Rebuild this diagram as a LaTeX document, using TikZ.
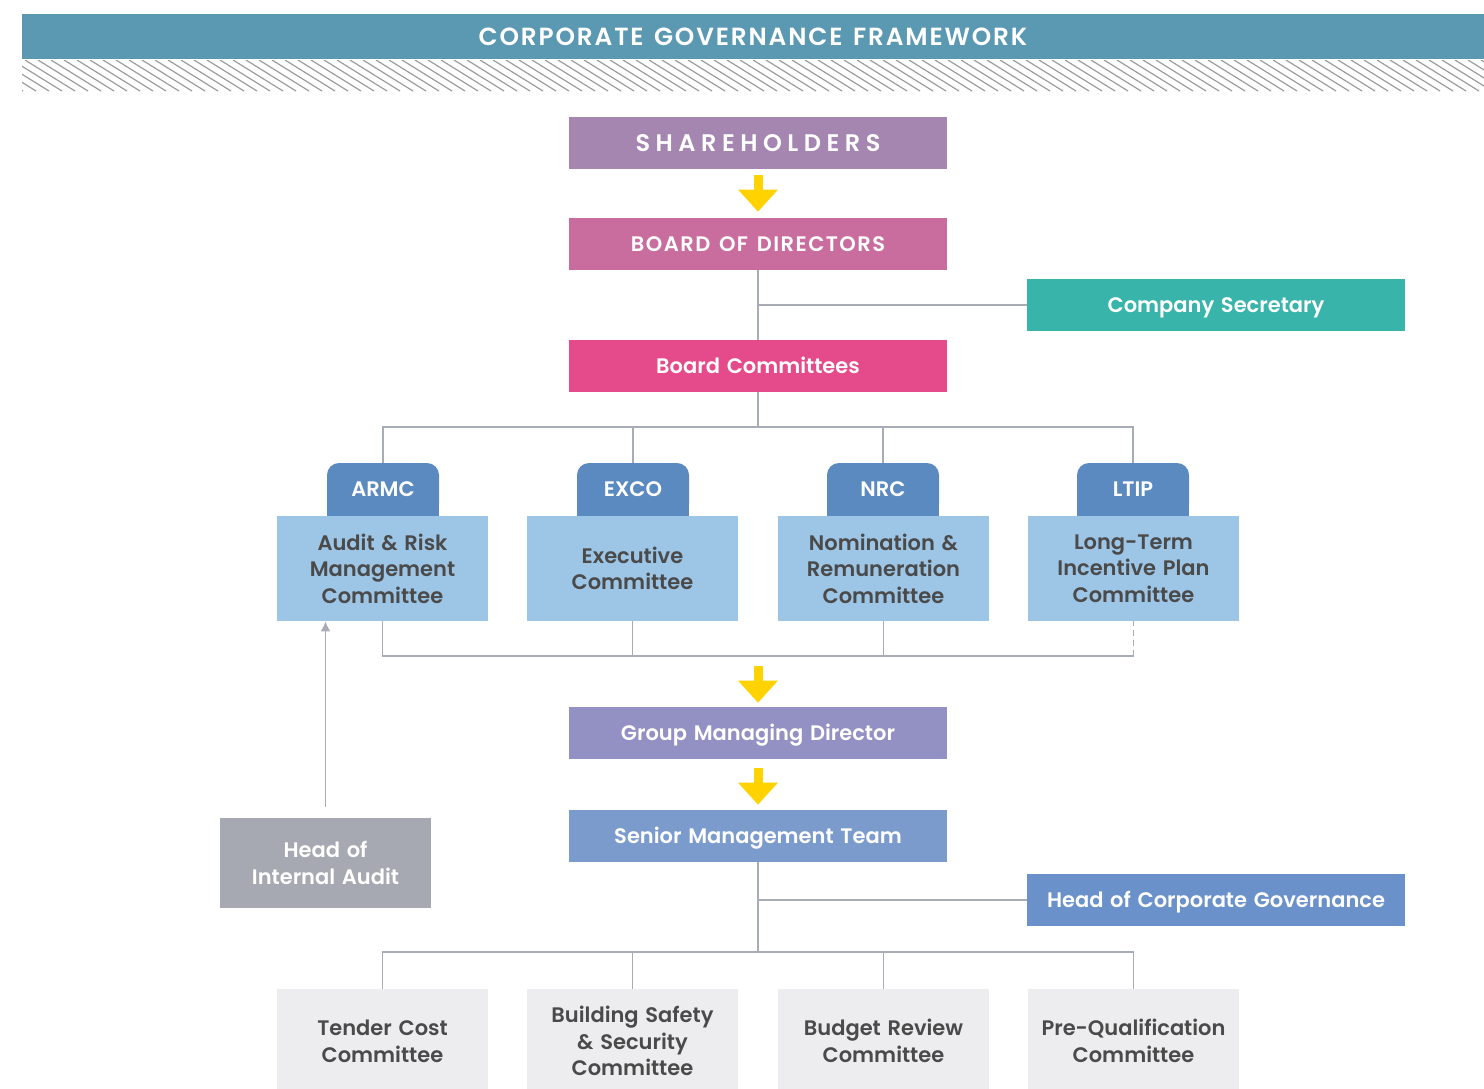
\documentclass[tikz,border=0pt]{standalone}
\usepackage{fontspec}
\setmainfont{Poppins}[BoldFont={Poppins SemiBold},WordSpace=1.35]
\usetikzlibrary{arrows.meta,positioning,backgrounds}
\definecolor{c-head}{HTML}{5B98B2}
\definecolor{c-hatch}{HTML}{9C9C9C}
\definecolor{c-share}{HTML}{A586B0}
\definecolor{c-board}{HTML}{C96D9E}
\definecolor{c-secr}{HTML}{38B4AA}
\definecolor{c-bcomm}{HTML}{E54A8A}
\definecolor{c-tab}{HTML}{5A8AC0}
\definecolor{c-comm}{HTML}{9DC5E6}
\definecolor{c-gmd}{HTML}{9390C3}
\definecolor{c-smt}{HTML}{7C9BCD}
\definecolor{c-hcg}{HTML}{6A91CA}
\definecolor{c-hia}{HTML}{A6A9B1}
\definecolor{c-sub}{HTML}{EDEDEF}
\definecolor{c-text}{HTML}{4A4A4A}
\definecolor{c-line}{HTML}{A8ACB4}
\definecolor{c-yellow}{HTML}{FFD200}
\tikzset{
  node-main/.style={rectangle,inner sep=0pt,minimum width=189pt,minimum height=26pt,text height=7.4pt,text depth=0pt,text=white,font=\fontsize{10.5}{12}\selectfont\bfseries},
  node-tab/.style={rectangle,rounded corners=6pt,inner sep=0pt,minimum width=56pt,minimum height=26.5pt,text height=7.4pt,text depth=0pt,fill=c-tab,text=white,font=\fontsize{10.5}{12}\selectfont\bfseries},
  node-comm/.style={rectangle,inner sep=0pt,minimum width=105.5pt,minimum height=52.5pt,fill=c-comm,text=c-text,align=center,font=\fontsize{10.5}{13.2}\selectfont\bfseries},
  node-sub/.style={rectangle,inner sep=0pt,minimum width=105.5pt,minimum height=52pt,fill=c-sub,text=c-text,align=center,font=\fontsize{10.5}{13.4}\selectfont\bfseries},
  link/.style={draw=c-line,line width=0.8pt},
  push/.style={draw=c-yellow,line width=4.5pt,-{Triangle[width=20pt,length=11pt,line width=0pt]}},
  report/.style={draw=c-line,line width=0.8pt,-{Latex[length=5pt,width=5pt]}},
  hatch/.style={draw=c-hatch,line width=0.6pt},
}

\begin{document}
\begin{tikzpicture}[x=0.5pt,y=0.5pt]
  \useasboundingbox (0,0) rectangle (1484,-1088);

  % banner
  \node[rectangle,fill=c-head,inner sep=0pt,minimum width=731pt,minimum height=22.5pt,text height=8.9pt,text depth=0pt,text=white,font=\fontsize{12.4}{14}\selectfont\bfseries\addfontfeatures{LetterSpace=7.5}] (title) at (753,-36.5) {CORPORATE GOVERNANCE FRAMEWORK};
  \begin{scope}
    \clip (22,-60) rectangle (1484,-91);
    \foreach \x in {-40,-27,...,1490}
      \draw[hatch] (\x,-60) -- ++(50,-31);
  \end{scope}

  % board level
  \node[node-main,fill=c-share,text height=8.6pt,font=\fontsize{12}{14}\selectfont\bfseries\addfontfeatures{LetterSpace=23}] (share) at (758,-143) {SHAREHOLDERS};
  \node[node-main,fill=c-board,font=\fontsize{10.5}{12}\selectfont\bfseries\addfontfeatures{LetterSpace=7}] (board) at (758,-244) {BOARD OF DIRECTORS};
  \node[node-main,fill=c-secr] (secr) at (1216,-305) {Company Secretary};
  \node[node-main,fill=c-bcomm] (bcomm) at (758,-366) {Board Committees};
  \draw[push] ([yshift=-3pt]share.south) -- ([yshift=3pt]board.north);
  \draw[link] (board) -- (bcomm);
  \draw[link] (secr.west) -- (secr.west -| board);

  % committees
  \node[node-tab] (armc) at (383,-489.5)  {ARMC};
  \node[node-tab] (exco) at (633,-489.5)  {EXCO};
  \node[node-tab] (nrc)  at (883,-489.5)  {NRC};
  \node[node-tab] (ltip) at (1133,-489.5) {LTIP};
  \begin{scope}[on background layer]
    \foreach \t in {armc,exco,nrc,ltip}
      \fill[c-tab] (\t.south west) rectangle (\t.east);
  \end{scope}
  \node[node-comm] (armcb) at (382.5,-568.5)  {Audit \& Risk\\Management\\Committee};
  \node[node-comm] (excob) at (632.5,-568.5)  {Executive\\Committee};
  \node[node-comm] (nrcb)  at (883.5,-568.5)  {Nomination \&\\Remuneration\\Committee};
  \node[node-comm] (ltipb) at (1133.5,-568.5) {Long-Term\\Incentive Plan\\Committee};
  \coordinate (bus1) at (758,-427);
  \draw[link] (bcomm) -- (bus1);
  \draw[link] (armc.north) |- (bus1) -| (ltip.north);
  \draw[link] (exco.north) -- (exco.north |- bus1);
  \draw[link] (nrc.north)  -- (nrc.north |- bus1);
  \coordinate (bus2) at (758,-656);
  \draw[link] (armcb.south) |- (bus2) -- (bus2 -| ltipb.south);
  \draw[link] (excob.south) -- (excob.south |- bus2);
  \draw[link] (nrcb.south)  -- (nrcb.south |- bus2);
  \draw[link,dash pattern=on 3pt off 2pt] (bus2 -| ltipb.south) -- (ltipb.south);

  % management
  \node[node-main,fill=c-gmd] (gmd) at (758,-733) {Group Managing Director};
  \node[node-main,fill=c-smt] (smt) at (758,-836) {Senior Management Team};
  \node[node-main,fill=c-hcg] (hcg) at (1216,-900) {Head of Corporate Governance};
  \node[node-main,fill=c-hia,minimum width=105.5pt,minimum height=45pt,text height=,text depth=,align=center,font=\fontsize{10.5}{13.2}\selectfont\bfseries] (hia) at (325.5,-863) {Head of\\Internal Audit};
  \draw[push] ([yshift=-5pt]bus2) -- ([yshift=2pt]gmd.north);
  \draw[push] ([yshift=-4.5pt]gmd.south) -- ([yshift=2.5pt]smt.north);
  \draw[link] (hcg.west) -- (hcg.west -| smt);
  \draw[report] ([yshift=5.5pt]hia.north) -- (armcb.south -| hia.north);

  % management committees
  \node[node-sub] (tender) at (382.5,-1041)  {Tender Cost\\Committee};
  \node[node-sub] (bssc)   at (632.5,-1041)  {Building Safety\\\& Security\\Committee};
  \node[node-sub] (budget) at (883.5,-1041)  {Budget Review\\Committee};
  \node[node-sub] (preq)   at (1133.5,-1041) {Pre-Qualification\\Committee};
  \coordinate (bus3) at (758,-952);
  \draw[link] (smt) -- (bus3);
  \draw[link] (tender.north) |- (bus3) -| (preq.north);
  \draw[link] (bssc.north)   -- (bssc.north |- bus3);
  \draw[link] (budget.north) -- (budget.north |- bus3);

\end{tikzpicture}
\end{document}
